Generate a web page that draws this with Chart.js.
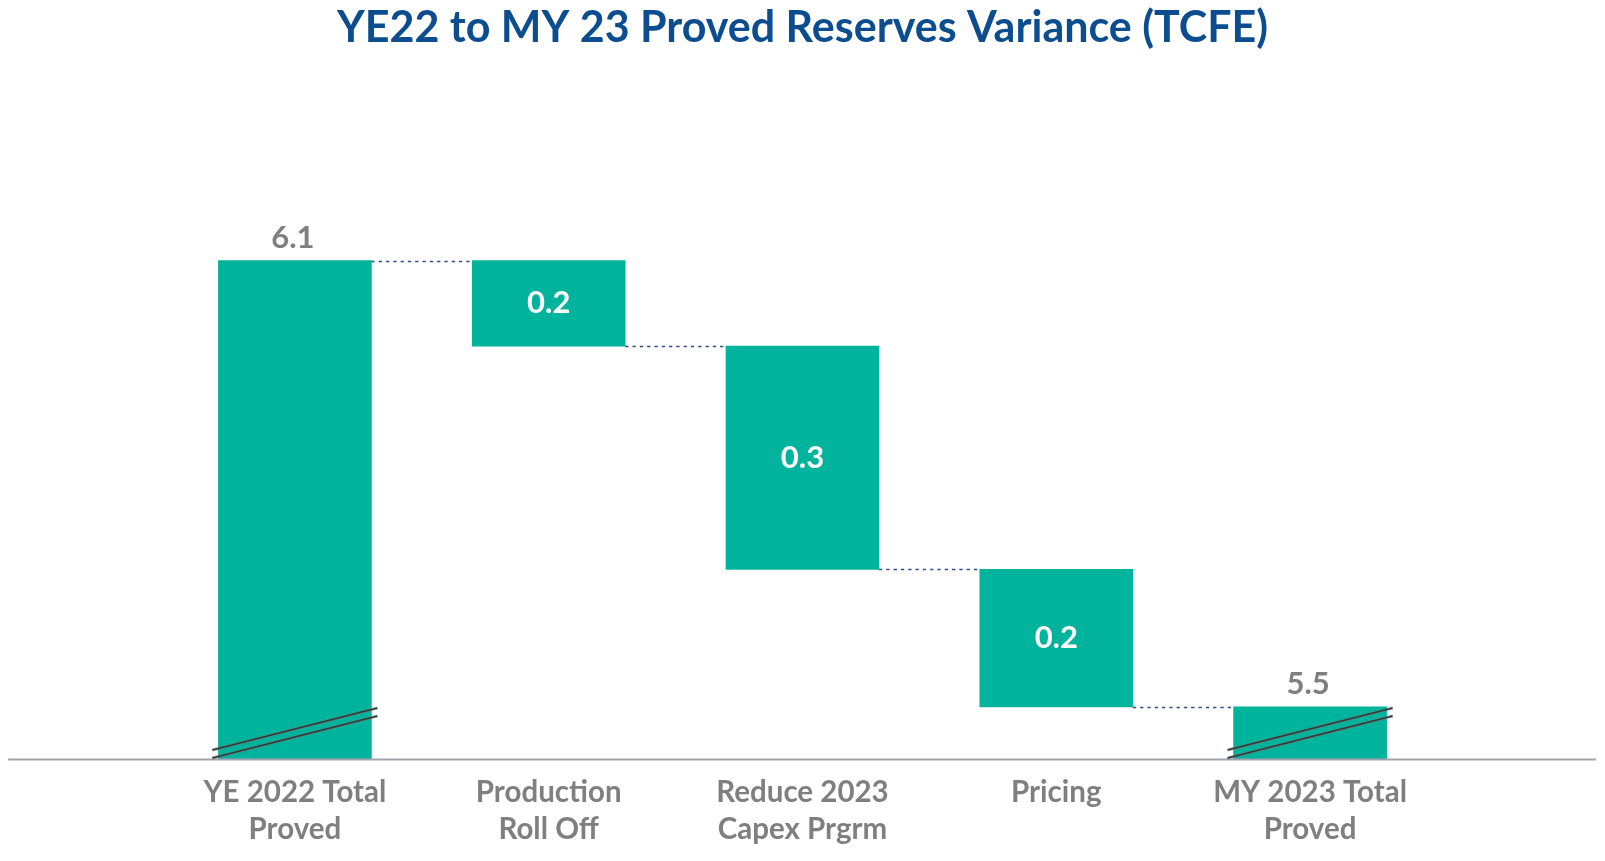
<!DOCTYPE html>
<html><head><meta charset="utf-8">
<script src="https://cdn.jsdelivr.net/npm/chart.js@4.4.1/dist/chart.umd.min.js"></script>
<style>html,body{margin:0;padding:0;background:#fff;overflow:hidden;}</style>
</head><body>
<canvas id="c" width="1605" height="861"></canvas>
<script>
// ---- data ----
const categories = [['YE 2022 Total', 'Proved'], ['Production', 'Roll Off'], ['Reduce 2023', 'Capex Prgrm'], ['Pricing'], ['MY 2023 Total', 'Proved']];
const startTotal = 6.1;
const steps = [-0.115, -0.30, -0.185];
const endTotal = 5.5;
const valueLabels = ['6.1', '0.2', '0.3', '0.2', '5.5'];
const axisFloor = 5.43;   // broken axis: visible bottom value
const axisTop = 6.25;

// ---- build floating ranges ----
const ranges = [[axisFloor, startTotal]];
const levels = [startTotal];
let lvl = startTotal;
for (const s of steps) {
  const nxt = Math.round((lvl + s) * 1000) / 1000;
  ranges.push([Math.min(lvl, nxt), Math.max(lvl, nxt)]);
  lvl = nxt;
  levels.push(lvl);
}
ranges.push([axisFloor, endTotal]);
const totalIdx = [0, categories.length - 1];

const FONT = 'Lato, "Open Sans", sans-serif';
const TEAL = '#00b39c';

const decor = {
  id: 'decor',
  afterDatasetsDraw(chart) {
    const ctx = chart.ctx;
    const meta = chart.getDatasetMeta(0);
    const ys = chart.scales.y;
    const base = ys.getPixelForValue(axisFloor);
    ctx.save();
    // connectors
    ctx.strokeStyle = '#2f4c8c';
    ctx.lineWidth = 1.7;
    ctx.setLineDash([3.3, 4]);
    for (let i = 0; i < levels.length; i++) {
      const a = meta.data[i], b = meta.data[i + 1];
      if (!b) break;
      const y = Math.round(ys.getPixelForValue(levels[i])) + 0.5;
      ctx.beginPath();
      ctx.moveTo(a.x + a.width / 2, y);
      ctx.lineTo(b.x - b.width / 2, y);
      ctx.stroke();
    }
    ctx.setLineDash([]);
    // axis line
    ctx.strokeStyle = '#a3a3ad';
    ctx.lineWidth = 2;
    ctx.beginPath();
    ctx.moveTo(8, base + 0.5);
    ctx.lineTo(chart.width - 9, base + 0.5);
    ctx.stroke();
    // break marks on total bars
    for (const i of totalIdx) {
      const el = meta.data[i];
      const l = el.x - el.width / 2 - 6, r = el.x + el.width / 2 + 6;
      for (const off of [[9, 51], [1, 43]]) {
        ctx.strokeStyle = 'rgba(120,120,120,0.6)';
        ctx.lineWidth = 3;
        ctx.beginPath(); ctx.moveTo(l, base - off[0]); ctx.lineTo(r, base - off[1]); ctx.stroke();
        ctx.strokeStyle = '#2e3b38';
        ctx.lineWidth = 1.6;
        ctx.beginPath(); ctx.moveTo(l, base - off[0]); ctx.lineTo(r, base - off[1]); ctx.stroke();
      }
    }
    // value labels
    ctx.font = 'bold 31px ' + FONT;
    ctx.textAlign = 'center';
    ctx.textBaseline = 'middle';
    meta.data.forEach((el, i) => {
      if (totalIdx.includes(i)) {
        ctx.fillStyle = '#7f7f7f';
        ctx.fillText(valueLabels[i], el.x - 2, Math.min(el.y, el.base) - 23);
      } else {
        ctx.fillStyle = '#ffffff';
        ctx.fillText(valueLabels[i], el.x, (el.y + el.base) / 2);
      }
    });
    ctx.restore();
  }
};

new Chart(document.getElementById('c'), {
  type: 'bar',
  data: {
    labels: categories,
    datasets: [{
      data: ranges,
      backgroundColor: TEAL,
      borderWidth: 0,
      barThickness: 153
    }]
  },
  options: {
    responsive: false,
    animation: false,
    devicePixelRatio: 1,
    layout: { padding: { left: 168, right: 168, top: 0, bottom: 0 } },
    plugins: {
      legend: { display: false },
      tooltip: { enabled: false },
      title: {
        display: true,
        text: 'YE22 to MY 23 Proved Reserves Variance (TCFE)',
        color: '#0c4d8f',
        font: { family: FONT, size: 43, weight: 'bold', lineHeight: 1.2 },
        padding: { top: 2, bottom: 95.4 }
      }
    },
    scales: {
      x: {
        grid: { display: false, drawTicks: false },
        border: { display: false },
        afterFit(scale) { scale.height = 102; },
        ticks: {
          color: '#7f7f7f',
          font: { family: FONT, size: 29.5, weight: 'bold', lineHeight: 37 / 29.5 },
          padding: 15,
          maxRotation: 0,
          autoSkip: false
        }
      },
      y: { display: false, min: axisFloor, max: axisTop }
    }
  },
  plugins: [decor]
});
</script>
</body></html>
